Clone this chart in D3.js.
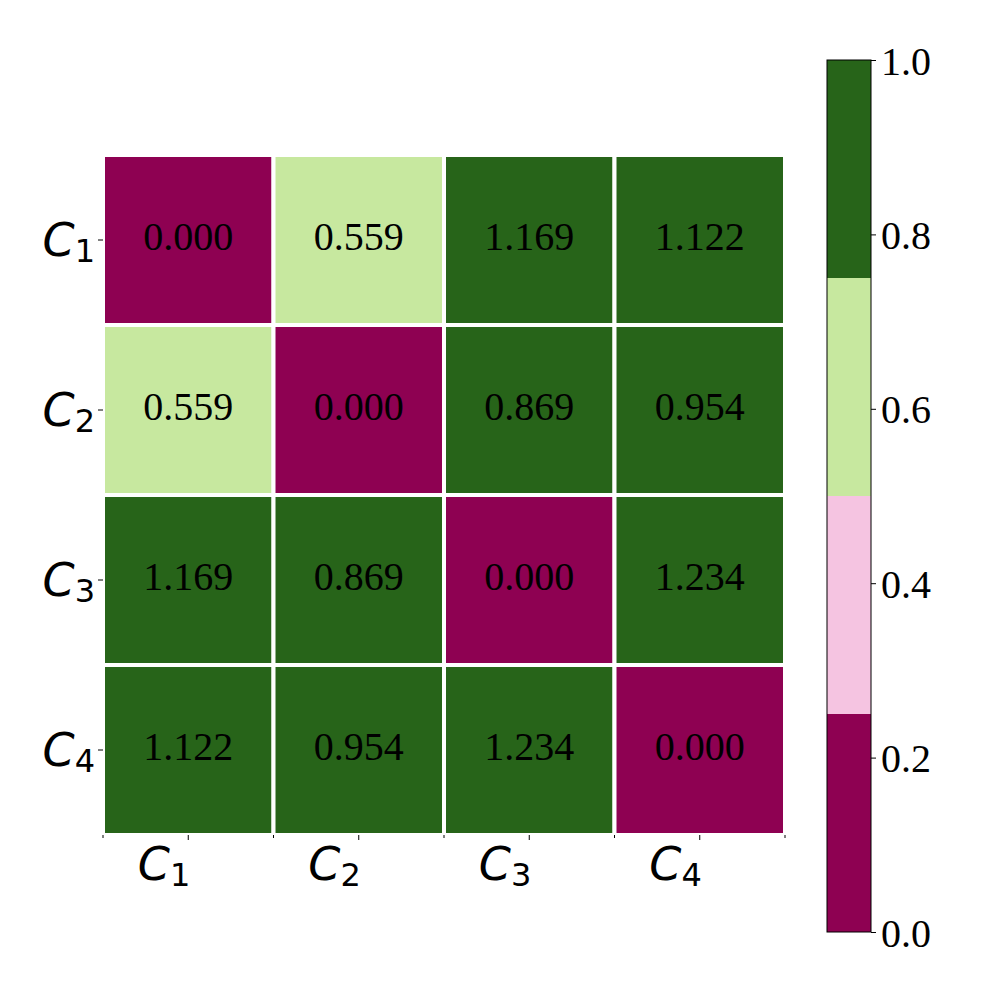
<!DOCTYPE html>
<html>
<head>
<meta charset="utf-8">
<script src="https://cdn.jsdelivr.net/npm/d3@7"></script>
<style>
  html, body { margin: 0; padding: 0; background: #fff; }
  svg { display: block; }
</style>
</head>
<body>
<svg id="chart" width="1000" height="1000"></svg>
<script>
// ---- data ----
const rowLabels = ["1", "2", "3", "4"];
const colLabels = ["1", "2", "3", "4"];
const values = [
  [0.000, 0.559, 1.169, 1.122],
  [0.559, 0.000, 0.869, 0.954],
  [1.169, 0.869, 0.000, 1.234],
  [1.122, 0.954, 1.234, 0.000]
];
const binColors = ["#8e0152", "#f5c4e1", "#c7e89f", "#276419"];
const binEdges = [0, 0.25, 0.5, 0.75, 1.0];
const cbarTicks = [0.0, 0.2, 0.4, 0.6, 0.8, 1.0];

// ---- layout ----
const svg = d3.select("#chart");
const ax = { left: 103, top: 155, width: 682, height: 680 };
const cb = { left: 827, top: 60, width: 44, height: 872 };

const x = d3.scaleBand().domain(colLabels).range([ax.left, ax.left + ax.width]);
const y = d3.scaleBand().domain(rowLabels).range([ax.top, ax.top + ax.height]);
const color = d3.scaleThreshold().domain(binEdges.slice(1, -1)).range(binColors);

const cells = [];
values.forEach((row, i) => row.forEach((v, j) => cells.push({ r: rowLabels[i], c: colLabels[j], v })));

const g = svg.append("g");
g.selectAll("rect.cell").data(cells).join("rect")
  .attr("class", "cell")
  .attr("x", d => x(d.c))
  .attr("y", d => y(d.r))
  .attr("width", x.bandwidth())
  .attr("height", y.bandwidth())
  .attr("fill", d => color(Math.min(d.v, 1)))
  .attr("stroke", "#fff")
  .attr("stroke-width", 4);

g.selectAll("text.val").data(cells).join("text")
  .attr("class", "val")
  .attr("x", d => x(d.c) + x.bandwidth() / 2)
  .attr("y", d => y(d.r) + y.bandwidth() / 2 + 10)
  .attr("text-anchor", "middle")
  .attr("font-family", "'Liberation Serif', 'Times New Roman', serif")
  .attr("font-size", 40)
  .attr("fill", "#000")
  .text(d => d.v.toFixed(3));

// ---- axes ----
function mathLabel(sel, sub) {
  sel.text(null);
  sel.append("tspan").attr("font-style", "italic").attr("font-size", 46).text("C");
  sel.append("tspan").attr("font-size", 32).attr("dy", 6).text(sub);
}

// bottom axis: major ticks at centers
const xAxis = d3.axisBottom(x).tickSize(5).tickPadding(0).tickFormat(() => "");
const gx = svg.append("g").attr("transform", `translate(0,${ax.top + ax.height})`).call(xAxis);
gx.select(".domain").remove();
gx.selectAll(".tick line").attr("stroke", "#000").attr("stroke-width", 1);
gx.selectAll(".tick").each(function(d) {
  const t = d3.select(this).append("text")
    .attr("x", 2).attr("y", 45)
    .attr("text-anchor", "end")
    .attr("font-family", "'DejaVu Sans', sans-serif")
    .attr("fill", "#000");
  mathLabel(t, d);
});
// minor ticks at boundaries
const bounds = colLabels.map(c => x(c)).concat([ax.left + ax.width]);
svg.append("g").selectAll("line").data(bounds).join("line")
  .attr("x1", d => d).attr("x2", d => d)
  .attr("y1", ax.top + ax.height).attr("y2", ax.top + ax.height + 3)
  .attr("stroke", "#000").attr("stroke-width", 1);

// left axis
const yAxis = d3.axisLeft(y).tickSize(5).tickPadding(0).tickFormat(() => "");
const gy = svg.append("g").attr("transform", `translate(${ax.left},0)`).call(yAxis);
gy.select(".domain").remove();
gy.selectAll(".tick line").attr("stroke", "#000").attr("stroke-width", 1);
gy.selectAll(".tick").each(function(d) {
  const t = d3.select(this).append("text")
    .attr("x", -8).attr("y", 16)
    .attr("text-anchor", "end")
    .attr("font-family", "'DejaVu Sans', sans-serif")
    .attr("fill", "#000");
  mathLabel(t, d);
});

// ---- colorbar ----
const cy = d3.scaleLinear().domain([0, 1]).range([cb.top + cb.height, cb.top]);
const bins = binColors.map((c, i) => ({ lo: binEdges[i], hi: binEdges[i + 1], c }));
svg.append("g").selectAll("rect").data(bins).join("rect")
  .attr("x", cb.left)
  .attr("y", d => cy(d.hi))
  .attr("width", cb.width)
  .attr("height", d => cy(d.lo) - cy(d.hi))
  .attr("fill", d => d.c);
svg.append("rect")
  .attr("x", cb.left).attr("y", cb.top)
  .attr("width", cb.width).attr("height", cb.height)
  .attr("fill", "none").attr("stroke", "#000").attr("stroke-width", 1);

const cAxis = d3.axisRight(cy).tickValues(cbarTicks).tickSize(5).tickPadding(5)
  .tickFormat(d3.format(".1f"));
const gc = svg.append("g").attr("transform", `translate(${cb.left + cb.width},0)`).call(cAxis);
gc.select(".domain").remove();
gc.selectAll(".tick line").attr("stroke", "#000");
gc.selectAll(".tick text")
  .attr("font-family", "'Liberation Serif', 'Times New Roman', serif")
  .attr("font-size", 40)
  .attr("fill", "#000")
  .attr("dy", null)
  .attr("y", 14);
</script>
</body>
</html>
